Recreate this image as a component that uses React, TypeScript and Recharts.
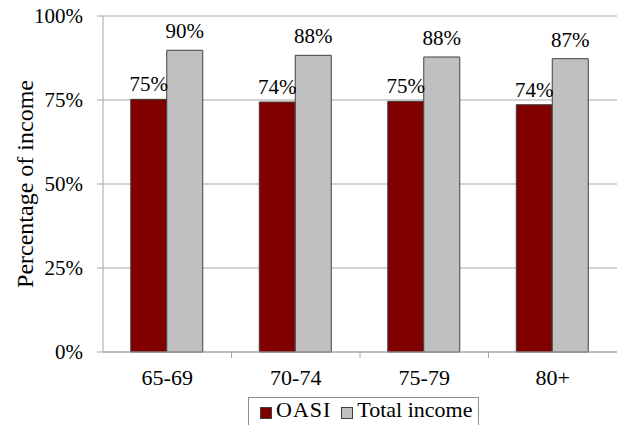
import React from "react";
import { BarChart, Bar, XAxis, YAxis, CartesianGrid, Legend, LabelList } from "recharts";

const ageGroups = ["65-69", "70-74", "75-79", "80+"];
const oasiShare = [75.2, 74.4, 74.6, 73.6];
const totalIncomeShare = [89.8, 88.3, 87.8, 87.3];
const yTicks = [0, 25, 50, 75, 100];

const FONT = '"Liberation Serif", "Times New Roman", serif';
const AXIS_GRAY = "#a6a6a6";

const data = ageGroups.map((group, i) => ({
  group,
  oasi: oasiShare[i],
  total: totalIncomeShare[i],
}));

// category ticks sit between groups, like the Excel original
function GroupTick(props: any) {
  const { x, y, payload, index, width } = props;
  const band = width / ageGroups.length;
  return (
    <g>
      <text x={x} y={y + 33} textAnchor="middle" fontSize={22} style={{ fontFamily: FONT }} fill="#000">
        {payload.value}
      </text>
      {index < ageGroups.length - 1 && (
        <line x1={x + band / 2} x2={x + band / 2} y1={y} y2={y + 6} stroke={AXIS_GRAY} />
      )}
    </g>
  );
}

function BoxLegend(props: any) {
  const { payload } = props;
  return (
    <div
      style={{
        border: "1px solid #8c8c8c",
        width: 231,
        height: 30,
        boxSizing: "border-box",
        display: "flex",
        alignItems: "flex-start",
        paddingTop: 1,
        paddingLeft: 11,
        fontFamily: FONT,
        fontSize: 22,
        lineHeight: "22px",
        color: "#000",
        whiteSpace: "nowrap",
      }}
    >
      {(payload || []).map((entry: any, i: number) => (
        <span key={entry.value} style={{ display: "flex", alignItems: "center", marginRight: i === 0 ? 10 : 0 }}>
          <span
            style={{
              display: "inline-block",
              width: 12,
              height: 12,
              background: entry.color,
              border: "1px solid #404040",
              boxSizing: "border-box",
              marginRight: 4,
              marginTop: 6,
            }}
          />
          <span style={{ letterSpacing: i === 0 ? 1 : 0 }}>{entry.value}</span>
        </span>
      ))}
    </div>
  );
}

const yLabel = () => (
  <text
    transform="translate(33,184) rotate(-90)"
    textAnchor="middle"
    fontSize={24}
    style={{ fontFamily: FONT }}
    fill="#000"
  >
    Percentage of income
  </text>
);

const pct = (v: any) => `${Math.round(Number(v))}%`;

export default function App() {
  return (
    <div style={{ position: "absolute", left: 0, top: 0, background: "#fff", fontFamily: FONT }}>
      <BarChart
        width={618}
        height={425}
        data={data}
        margin={{ top: 16, right: 1, bottom: 43, left: 0 }}
        barCategoryGap="21.6%"
        barGap={0}
        style={{ fontFamily: FONT }}
      >
        <CartesianGrid vertical={false} stroke={AXIS_GRAY} />
        <XAxis
          dataKey="group"
          tickLine={false}
          tickSize={0}
          tickMargin={0}
          axisLine={{ stroke: AXIS_GRAY }}
          tick={<GroupTick />}
          interval={0}
        />
        <YAxis
          width={103}
          domain={[0, 100]}
          ticks={yTicks}
          tickFormatter={(v: number) => `${v}%`}
          tickSize={6}
          tickMargin={14}
          tickLine={{ stroke: AXIS_GRAY }}
          axisLine={{ stroke: AXIS_GRAY }}
          tick={{ fontSize: 21, fontFamily: FONT, fill: "#000" }}
          label={{ content: yLabel }}
        />
        <Legend
          layout="horizontal"
          verticalAlign="middle"
          align="center"
          content={<BoxLegend />}
          wrapperStyle={{ left: 248, top: 397, width: 231, height: 30 }}
        />
        <Bar dataKey="oasi" name="OASI" fill="#800000" stroke="#404040" strokeWidth={1} isAnimationActive={false}>
          <LabelList dataKey="oasi" position="top" offset={8} formatter={pct} fontSize={21} fontFamily={FONT} fill="#000" />
        </Bar>
        <Bar dataKey="total" name="Total income" fill="#c0c0c0" stroke="#404040" strokeWidth={1} isAnimationActive={false}>
          <LabelList dataKey="total" position="top" offset={12} formatter={pct} fontSize={21} fontFamily={FONT} fill="#000" />
        </Bar>
      </BarChart>
    </div>
  );
}
